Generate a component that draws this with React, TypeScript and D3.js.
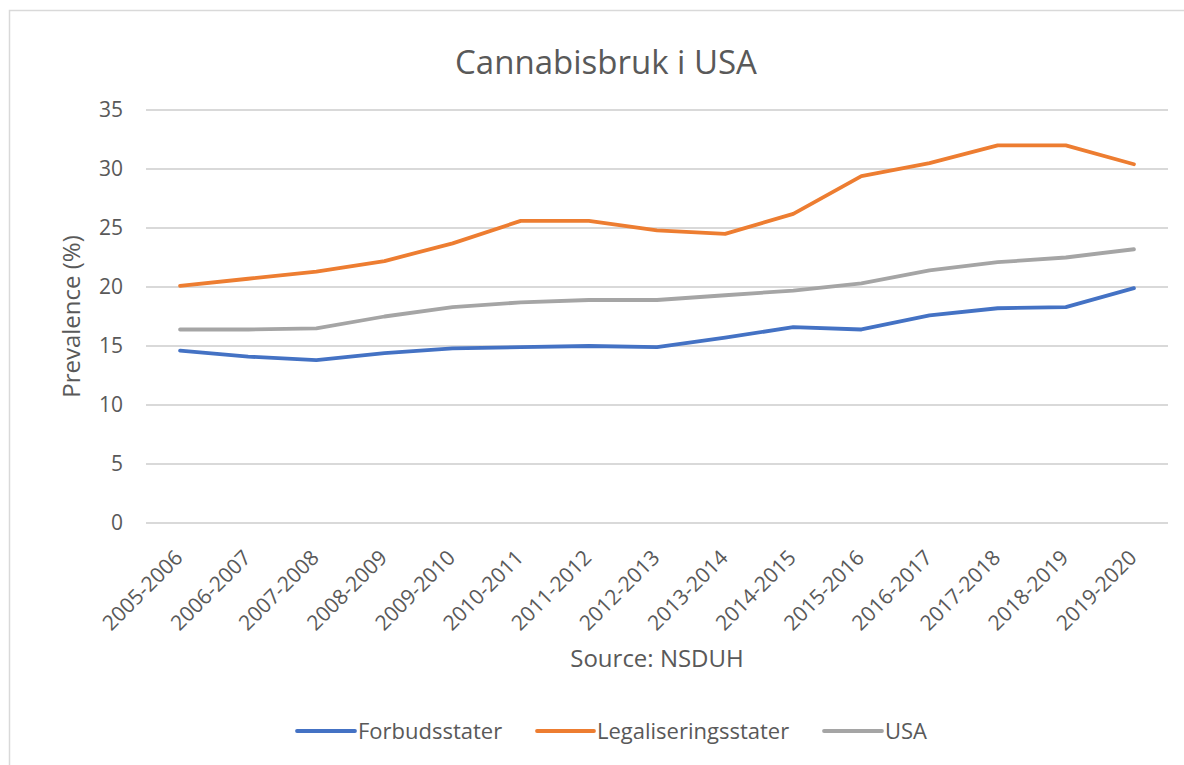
import React from 'react'
import * as d3 from 'd3'

const periods = [
  '2005-2006', '2006-2007', '2007-2008', '2008-2009', '2009-2010',
  '2010-2011', '2011-2012', '2012-2013', '2013-2014', '2014-2015',
  '2015-2016', '2016-2017', '2017-2018', '2018-2019', '2019-2020',
]
const forbud = [14.6, 14.1, 13.8, 14.4, 14.8, 14.9, 15.0, 14.9, 15.7, 16.6, 16.4, 17.6, 18.2, 18.3, 19.9]
const legal = [20.1, 20.7, 21.3, 22.2, 23.7, 25.6, 25.6, 24.8, 24.5, 26.2, 29.4, 30.5, 32.0, 32.0, 30.4]
const usa = [16.4, 16.4, 16.5, 17.5, 18.3, 18.7, 18.9, 18.9, 19.3, 19.7, 20.3, 21.4, 22.1, 22.5, 23.2]
const yTicks = [0, 5, 10, 15, 20, 25, 30, 35]

const series = [
  { name: 'Forbudsstater', values: forbud, color: '#4472C4' },
  { name: 'Legaliseringsstater', values: legal, color: '#ED7D31' },
  { name: 'USA', values: usa, color: '#A5A5A5' },
]

const W = 1184
const H = 765
const plotLeft = 146
const plotRight = 1168
const plotTop = 110
const plotBottom = 523
const font = "'Open Sans', 'Noto Sans', sans-serif"
const textColor = '#595959'

export default function App() {
  const x = d3.scalePoint<string>().domain(periods).range([plotLeft, plotRight]).padding(0.5)
  const y = d3.scaleLinear().domain([0, 35]).range([plotBottom, plotTop])
  const line = d3.line<number>()
    .x((_, i) => x(periods[i]) as number)
    .y(d => y(d))

  // legend swatch start / end and text start
  const legendItems = [
    { x1: 297, x2: 355, textX: 358 },
    { x1: 537, x2: 594, textX: 597 },
    { x1: 824, x2: 882, textX: 885 },
  ]

  return (
    <svg width={W} height={H} style={{ position: 'absolute', left: 0, top: 0, background: '#fff' }}
      fontFamily={font}>
      <rect x={9.5} y={10.5} width={W} height={H} fill="#fff" stroke="#d9d9d9" strokeWidth={1.5} />
      <text x={606} y={74} textAnchor="middle" fontSize={33} fill={textColor}>Cannabisbruk i USA</text>

      {yTicks.map(t => (
        <g key={t}>
          <line x1={plotLeft} x2={plotRight} y1={y(t)} y2={y(t)} stroke="#d9d9d9" strokeWidth={2} />
          <text x={123} y={y(t)} dy="0.35em" textAnchor="end" fontSize={21} fill={textColor}>{t}</text>
        </g>
      ))}

      <text transform={`translate(80, ${(plotTop + plotBottom) / 2}) rotate(-90)`} textAnchor="middle"
        fontSize={24} fill={textColor}>Prevalence (%)</text>

      {periods.map(p => (
        <text key={p} transform={`translate(${(x(p) as number) + 4}, ${plotBottom + 36}) rotate(-45)`}
          textAnchor="end" fontSize={21} fill={textColor}>{p}</text>
      ))}

      <text x={657} y={667} textAnchor="middle" fontSize={24} fill={textColor}>Source: NSDUH</text>

      {series.map(s => (
        <path key={s.name} d={line(s.values) as string} fill="none" stroke={s.color}
          strokeWidth={3.8} strokeLinejoin="round" strokeLinecap="round" />
      ))}

      {series.map((s, i) => (
        <g key={s.name}>
          <line x1={legendItems[i].x1} x2={legendItems[i].x2} y1={731} y2={731}
            stroke={s.color} strokeWidth={3.8} strokeLinecap="round" />
          <text x={legendItems[i].textX} y={731} dy="0.35em" fontSize={22} fill={textColor}>{s.name}</text>
        </g>
      ))}
    </svg>
  )
}
